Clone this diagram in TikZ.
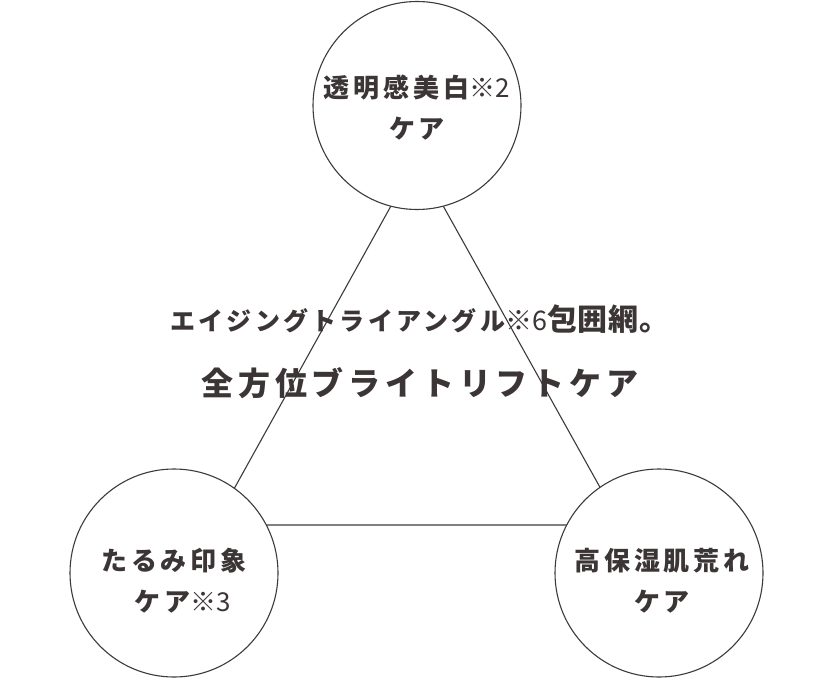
\documentclass[tikz,border=0pt]{standalone}
\usepackage{fontspec}
\setmainfont{Noto Sans CJK JP}
\usetikzlibrary{positioning}
\definecolor{ink}{RGB}{60,53,54}
\definecolor{rule}{RGB}{62,58,58}
\newcommand{\thin}[1]{{\mdseries\addfontfeatures{LetterSpace=0}#1}}
\tikzstyle{side} = [draw=rule, line width=1.1pt]
\tikzstyle{care} = [circle, draw=rule, line width=1.1pt, fill=white, minimum size=208pt, inner sep=0pt]
\tikzstyle{lbl} = [text=ink, align=center, inner sep=0pt, font=\bfseries\fontsize{26}{41}\selectfont\addfontfeatures{LetterSpace=15}]
\tikzstyle{mid} = [text=ink, inner sep=0pt, font=\bfseries\fontsize{25}{30}\selectfont\addfontfeatures{LetterSpace=13}]
\tikzstyle{big} = [text=ink, inner sep=0pt, font=\bfseries\fontsize{32}{36}\selectfont\addfontfeatures{LetterSpace=15}]

\begin{document}
\begin{tikzpicture}[x=1pt, y=-1pt]
\useasboundingbox (0,0) rectangle (834,679);

% triangle behind the circles
\coordinate (apex) at (417,159);
\coordinate (baseL) at (214,525);
\coordinate (baseR) at (621,525);
\draw [side] (apex) -- (baseL) -- (baseR) -- cycle;

\node (bright) [care] at (417,105.5) {};
\node (sag) [care] at (174,573) {};
\node (moist) [care] at (659,573) {};

\node (brightlbl) [lbl] at (417,108) {透明感美白{\fontsize{26}{41}\selectfont\thin{※2}}\\ケア};
\node (saglbl) [lbl] at (174,581) {たるみ印象\\\hspace*{18pt}ケア{\fontsize{26}{41}\selectfont\thin{※3}}};
\node (moistlbl) [lbl] at (662,581) {高保湿肌荒れ\\ケア};

\node (aging) [mid] at (420,319) {エイジングトライアングル{\fontsize{27}{30}\selectfont\thin{※6}}{\fontsize{30}{30}\selectfont\addfontfeatures{LetterSpace=3}包囲網。}};
\node (lift) [big] at (420,383) {全方位ブライトリフトケア};

\end{tikzpicture}
\end{document}
